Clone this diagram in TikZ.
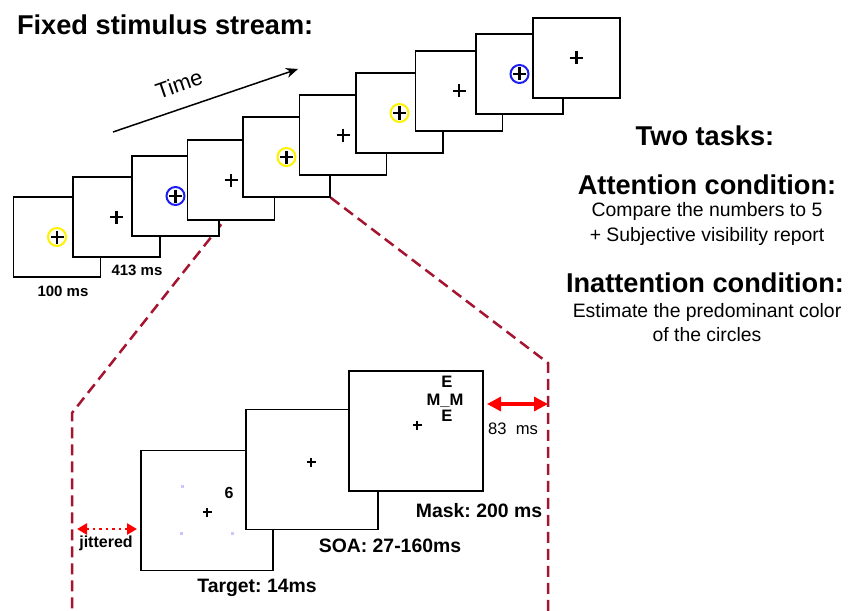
\documentclass[tikz,border=0pt]{standalone}
\usepackage{fontspec}
\setmainfont{Liberation Sans}
\usetikzlibrary{arrows.meta,backgrounds,calc}
\definecolor{zoomred}{RGB}{165,20,48}
\definecolor{ringyellow}{RGB}{255,242,0}
\definecolor{ringblue}{RGB}{30,30,240}
\definecolor{dotlav}{RGB}{200,200,255}
\frenchspacing
% fixation cross: centre, half arm, line width
\newcommand{\fixcross}[3]{%
  \draw[line width=#3] ($(#1)+(-#2,0)$) -- ($(#1)+(#2,0)$) ($(#1)+(0,-#2)$) -- ($(#1)+(0,#2)$);}

\begin{document}
\begin{tikzpicture}[x=0.5pt, y=-0.5pt,
  frame/.style={draw, fill=white, line width=0.65pt, minimum width=43.5pt, minimum height=40pt, inner sep=0pt},
  bigframe/.style={draw, fill=white, line width=0.75pt, minimum width=66pt, minimum height=60pt, inner sep=0pt},
  noring/.style={draw=none},
  yellowring/.style={draw=ringyellow, line width=1pt},
  bluering/.style={draw=ringblue, line width=1pt},
  headtxt/.style={font=\fontsize{13.6}{16}\selectfont\bfseries},
  bodytxt/.style={font=\fontsize{9.7}{12}\selectfont},
  durtxt/.style={font=\fontsize{9.7}{12}\selectfont\bfseries},
  mstxt/.style={font=\fontsize{7.5}{9}\selectfont\bfseries},
  masktxt/.style={font=\fontsize{8.3}{10}\selectfont\bfseries, inner sep=0pt, anchor=base},
  zoomline/.style={draw=zoomred, line width=1.25pt, dash pattern=on 5.5pt off 3pt},
  redarrow/.style={draw=red, line width=1.6pt, {Triangle[length=7pt,width=7pt]}-{Triangle[length=7pt,width=7pt]}, red}
]
\useasboundingbox (0,0) rectangle (850,610);

% title and time arrow
\node[headtxt, anchor=west] (title) at (10,25) {Fixed stimulus stream:};
\coordinate (tstart) at (113,132);
\coordinate (tend) at (298,69);
\draw[line width=0.75pt, -{Stealth[length=6pt,width=5pt]}] (tstart) -- (tend);
\node[font=\fontsize{11}{13}\selectfont, rotate=19] (time) at (179,84) {Time};

% fixed stream
\foreach \i/\x/\y/\c in {1/57/237/yellowring, 2/116.5/217/noring, 3/175.5/196/bluering, 4/231/180/noring,
  5/286.5/157/yellowring, 6/343/135/noring, 7/399.5/113/yellowring, 8/459/91/noring,
  9/519.5/74/bluering, 10/576.5/58/noring} {
  \node[frame] (f\i) at (\x,\y) {};
  \draw[\c] (f\i.center) circle (9);
  \fixcross{f\i.center}{6.5}{1.1pt}
}
\node[mstxt] (d100) at (63,291) {100 ms};
\node[mstxt] (d413) at (137,270) {413 ms};

% tasks
\node[headtxt] (tasks) at (705,136) {Two tasks:};
\node[headtxt] (att) at (707,185) {Attention condition:};
\node[bodytxt] (att1) at (707,211) {Compare the numbers to 5};
\node[bodytxt] (att2) at (707,236) {+ Subjective visibility report};
\node[headtxt] (inatt) at (705,283) {Inattention condition:};
\node[bodytxt] (inatt1) at (707,312) {Estimate the predominant color};
\node[bodytxt] (inatt2) at (707,335) {of the circles};

% zoomed trial
\node[bigframe] (target) at (207,510.5) {};
\fill[dotlav] (180.5,484.5) rectangle ++(3,3);
\fill[dotlav] (179.5,531.5) rectangle ++(3,3);
\fill[dotlav] (230.5,531.5) rectangle ++(3,3);
\fixcross{207,512}{4.5}{0.8pt}
\node[font=\fontsize{8}{10}\selectfont\bfseries] (digit) at (229,493) {6};
\node[bigframe] (soa) at (312,469.5) {};
\fixcross{311,462}{4.5}{0.8pt}
\node[bigframe, minimum width=67pt] (mask) at (416,431) {};
\fixcross{417,425}{4.5}{0.8pt}
\node[masktxt] (etop) at (447,387) {E};
\node[masktxt] (mm) at (445,405) {M\_M};
\node[masktxt] (ebot) at (447,421) {E};

\node[durtxt] (dtarget) at (257,588) {Target: 14ms};
\node[durtxt] (dsoa) at (390,546) {SOA: 27-160ms};
\node[durtxt] (dmask) at (479,511) {Mask: 200 ms};

% zoom lines
\coordinate (lbend) at (72,413);
\coordinate (lend) at (72,612);
\coordinate (rbend) at (548,363);
\coordinate (rend) at (548,612);
\begin{scope}[on background layer]
\draw[zoomline] (f5.south west) -- (lbend) -- (lend);
\draw[zoomline] (f5.south east) -- (rbend) -- (rend);
\end{scope}

% intervals
\coordinate (gapl) at (487,404);
\coordinate (gapr) at (548,404);
\draw[redarrow] (gapl) -- (gapr);
\node[font=\fontsize{8.3}{10}\selectfont] (d83) at (513,429) {83\ \ ms};
\coordinate (jitl) at (77,529);
\coordinate (jitr) at (137,529);
\draw[draw=red, line width=1.25pt, dotted, {Triangle[length=5pt,width=5.5pt]}-{Triangle[length=5pt,width=5.5pt]}, red] (jitl) -- (jitr);
\node[font=\fontsize{8}{10}\selectfont\bfseries] (jit) at (106,543) {jittered};
\end{tikzpicture}
\end{document}
